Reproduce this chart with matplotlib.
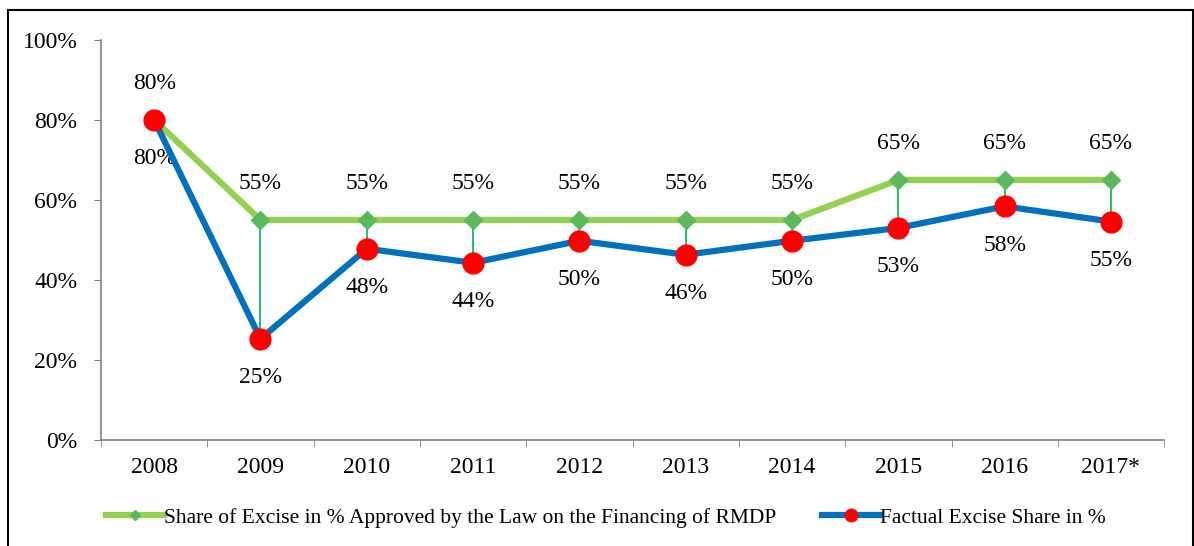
import matplotlib
matplotlib.use('Agg')
import matplotlib.pyplot as plt
from matplotlib.patches import Rectangle

plt.rcParams['font.family'] = ['Liberation Serif', 'DejaVu Serif']

years = ['2008', '2009', '2010', '2011', '2012', '2013', '2014', '2015', '2016', '2017*']
approved = [80, 55, 55, 55, 55, 55, 55, 65, 65, 65]
factual = [80, 25.3, 47.8, 44.3, 49.8, 46.3, 49.8, 53.0, 58.4, 54.6]
approved_lbl = ['80%', '55%', '55%', '55%', '55%', '55%', '55%', '65%', '65%', '65%']
factual_lbl = ['80%', '25%', '48%', '44%', '50%', '46%', '50%', '53%', '58%', '55%']

fig = plt.figure(figsize=(11.94, 5.46), dpi=100)
ax = fig.add_axes([0.0846, 0.194, 0.8904, 0.733])

x = list(range(len(years)))

# high-low lines between the two series
for i in x:
    ax.plot([i, i], [factual[i], approved[i]], color='#00B050', lw=1.2, zorder=2)

ax.plot(x, approved, color='#92D050', lw=4.5, marker='D', markersize=9,
        markerfacecolor='#5CB85C', markeredgecolor='#5CB85C', zorder=3,
        label='Share of Excise in % Approved by the Law on the Financing of RMDP')
ax.plot(x, factual, color='#0070C0', lw=4.5, marker='o', markersize=15,
        markerfacecolor='#FF0000', markeredgecolor='#FF0000', zorder=4,
        label='Factual Excise Share in %')

for i in x:
    ax.annotate(approved_lbl[i], (i, approved[i]), xytext=(0, 26), textcoords='offset points',
                ha='center', va='center', fontsize=17)
    ax.annotate(factual_lbl[i], (i, factual[i]), xytext=(0, -28), textcoords='offset points',
                ha='center', va='center', fontsize=17)

ax.set_xlim(-0.5, 9.5)
ax.set_ylim(0, 100)
ax.set_yticks([0, 20, 40, 60, 80, 100])
ax.set_yticklabels(['0%', '20%', '40%', '60%', '80%', '100%'], fontsize=17)
ax.set_xticks(x)
ax.set_xticklabels(years, fontsize=17)
ax.set_xticks([i - 0.5 for i in range(len(years) + 1)], minor=True)
ax.tick_params(axis='x', which='major', length=0, pad=12)
ax.tick_params(axis='x', which='minor', length=5, color='#808080')
ax.tick_params(axis='y', length=5, color='#808080', pad=12)
for s in ['top', 'right']:
    ax.spines[s].set_visible(False)
for s in ['left', 'bottom']:
    ax.spines[s].set_color('#808080')
    ax.spines[s].set_linewidth(1.2)

leg = fig.legend(loc='center', bbox_to_anchor=(0.5075, 0.052), ncol=2, frameon=False,
                 fontsize=15.5, handlelength=2.7, handletextpad=0.0, columnspacing=2.1,
                 markerscale=0.6)

fig.patches.append(Rectangle((8 / 1194, -0.01), 1185 / 1194, 1 - 10 / 546 + 0.01,
                             transform=fig.transFigure, fill=False, ec='black', lw=1.5))

fig.savefig('out.png', dpi=100)
